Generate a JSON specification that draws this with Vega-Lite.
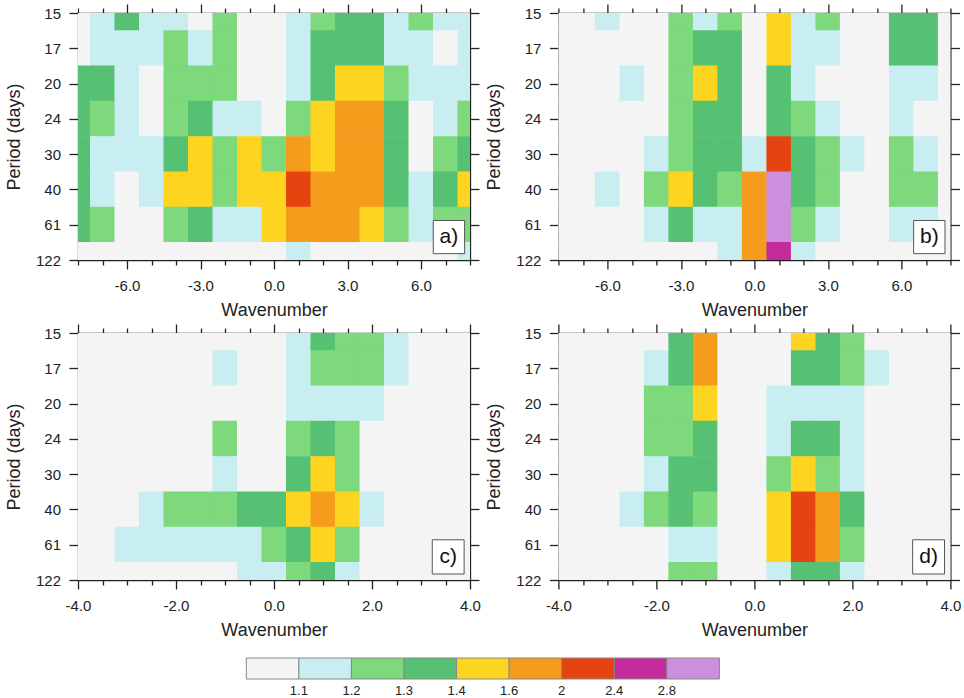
{
"$schema": "https://vega.github.io/schema/vega-lite/v6.json",
"padding": {"left": 5, "top": 3, "right": 0, "bottom": 0},
"spacing": 18,
"config": {
  "view": {"stroke": null},
  "font": "Liberation Sans",
  "axis": {"labelFont": "Liberation Sans", "labelFontSize": 15, "labelColor": "#222", "titleFont": "Liberation Sans", "titleFontSize": 18, "titleFontWeight": "normal", "titleColor": "#222", "domainColor": "#222", "domainWidth": 1.3, "tickColor": "#222", "tickWidth": 1.3, "grid": false, "labelFlush": false, "labelOverlap": false}
},
"datasets": {
"a": [
{"x":-8,"f":8,"v":1.05},{"x":-7,"f":8,"v":1.12},{"x":-6,"f":8,"v":1.32},{"x":-5,"f":8,"v":1.15},{"x":-4,"f":8,"v":1.12},{"x":-3,"f":8,"v":1.05},{"x":-2,"f":8,"v":1.22},{"x":-1,"f":8,"v":1.0},{"x":0,"f":8,"v":1.0},{"x":1,"f":8,"v":1.1},{"x":2,"f":8,"v":1.22},{"x":3,"f":8,"v":1.35},{"x":4,"f":8,"v":1.32},{"x":5,"f":8,"v":1.1},{"x":6,"f":8,"v":1.25},{"x":7,"f":8,"v":1.15},{"x":8,"f":8,"v":1.15},
{"x":-8,"f":7,"v":1.09},{"x":-7,"f":7,"v":1.18},{"x":-6,"f":7,"v":1.15},{"x":-5,"f":7,"v":1.1},{"x":-4,"f":7,"v":1.22},{"x":-3,"f":7,"v":1.12},{"x":-2,"f":7,"v":1.28},{"x":-1,"f":7,"v":1.0},{"x":0,"f":7,"v":1.02},{"x":1,"f":7,"v":1.15},{"x":2,"f":7,"v":1.3},{"x":3,"f":7,"v":1.38},{"x":4,"f":7,"v":1.35},{"x":5,"f":7,"v":1.15},{"x":6,"f":7,"v":1.15},{"x":7,"f":7,"v":1.07},{"x":8,"f":7,"v":1.15},
{"x":-8,"f":6,"v":1.3},{"x":-7,"f":6,"v":1.32},{"x":-6,"f":6,"v":1.1},{"x":-5,"f":6,"v":1.05},{"x":-4,"f":6,"v":1.25},{"x":-3,"f":6,"v":1.25},{"x":-2,"f":6,"v":1.2},{"x":-1,"f":6,"v":1.03},{"x":0,"f":6,"v":1.05},{"x":1,"f":6,"v":1.18},{"x":2,"f":6,"v":1.36},{"x":3,"f":6,"v":1.5},{"x":4,"f":6,"v":1.4},{"x":5,"f":6,"v":1.22},{"x":6,"f":6,"v":1.1},{"x":7,"f":6,"v":1.15},{"x":8,"f":6,"v":1.18},
{"x":-8,"f":5,"v":1.36},{"x":-7,"f":5,"v":1.26},{"x":-6,"f":5,"v":1.12},{"x":-5,"f":5,"v":1.05},{"x":-4,"f":5,"v":1.26},{"x":-3,"f":5,"v":1.35},{"x":-2,"f":5,"v":1.15},{"x":-1,"f":5,"v":1.1},{"x":0,"f":5,"v":1.08},{"x":1,"f":5,"v":1.28},{"x":2,"f":5,"v":1.42},{"x":3,"f":5,"v":1.6},{"x":4,"f":5,"v":1.62},{"x":5,"f":5,"v":1.3},{"x":6,"f":5,"v":1.07},{"x":7,"f":5,"v":1.18},{"x":8,"f":5,"v":1.2},
{"x":-8,"f":4,"v":1.36},{"x":-7,"f":4,"v":1.18},{"x":-6,"f":4,"v":1.1},{"x":-5,"f":4,"v":1.12},{"x":-4,"f":4,"v":1.32},{"x":-3,"f":4,"v":1.45},{"x":-2,"f":4,"v":1.22},{"x":-1,"f":4,"v":1.42},{"x":0,"f":4,"v":1.2},{"x":1,"f":4,"v":1.62},{"x":2,"f":4,"v":1.58},{"x":3,"f":4,"v":1.75},{"x":4,"f":4,"v":1.7},{"x":5,"f":4,"v":1.38},{"x":6,"f":4,"v":1.08},{"x":7,"f":4,"v":1.25},{"x":8,"f":4,"v":1.33},
{"x":-8,"f":3,"v":1.35},{"x":-7,"f":3,"v":1.16},{"x":-6,"f":3,"v":1.0},{"x":-5,"f":3,"v":1.1},{"x":-4,"f":3,"v":1.42},{"x":-3,"f":3,"v":1.55},{"x":-2,"f":3,"v":1.28},{"x":-1,"f":3,"v":1.45},{"x":0,"f":3,"v":1.58},{"x":1,"f":3,"v":2.38},{"x":2,"f":3,"v":1.9},{"x":3,"f":3,"v":1.8},{"x":4,"f":3,"v":1.65},{"x":5,"f":3,"v":1.35},{"x":6,"f":3,"v":1.15},{"x":7,"f":3,"v":1.3},{"x":8,"f":3,"v":1.45},
{"x":-8,"f":2,"v":1.3},{"x":-7,"f":2,"v":1.2},{"x":-6,"f":2,"v":1.0},{"x":-5,"f":2,"v":1.05},{"x":-4,"f":2,"v":1.25},{"x":-3,"f":2,"v":1.38},{"x":-2,"f":2,"v":1.1},{"x":-1,"f":2,"v":1.15},{"x":0,"f":2,"v":1.5},{"x":1,"f":2,"v":1.95},{"x":2,"f":2,"v":1.7},{"x":3,"f":2,"v":1.62},{"x":4,"f":2,"v":1.45},{"x":5,"f":2,"v":1.2},{"x":6,"f":2,"v":1.12},{"x":7,"f":2,"v":1.2},{"x":8,"f":2,"v":1.22},
{"x":-8,"f":1,"v":1.0},{"x":-7,"f":1,"v":1.02},{"x":-6,"f":1,"v":1.0},{"x":-5,"f":1,"v":1.0},{"x":-4,"f":1,"v":1.05},{"x":-3,"f":1,"v":1.08},{"x":-2,"f":1,"v":1.0},{"x":-1,"f":1,"v":1.0},{"x":0,"f":1,"v":1.05},{"x":1,"f":1,"v":1.12},{"x":2,"f":1,"v":1.08},{"x":3,"f":1,"v":1.05},{"x":4,"f":1,"v":1.05},{"x":5,"f":1,"v":1.05},{"x":6,"f":1,"v":1.05},{"x":7,"f":1,"v":1.08},{"x":8,"f":1,"v":1.1}
],
"b": [
{"x":-8,"f":8,"v":1.0},{"x":-7,"f":8,"v":1.0},{"x":-6,"f":8,"v":1.15},{"x":-5,"f":8,"v":1.0},{"x":-4,"f":8,"v":1.0},{"x":-3,"f":8,"v":1.22},{"x":-2,"f":8,"v":1.15},{"x":-1,"f":8,"v":1.2},{"x":0,"f":8,"v":1.05},{"x":1,"f":8,"v":1.45},{"x":2,"f":8,"v":1.12},{"x":3,"f":8,"v":1.22},{"x":4,"f":8,"v":1.0},{"x":5,"f":8,"v":1.0},{"x":6,"f":8,"v":1.38},{"x":7,"f":8,"v":1.32},{"x":8,"f":8,"v":1.0},
{"x":-8,"f":7,"v":1.0},{"x":-7,"f":7,"v":1.0},{"x":-6,"f":7,"v":1.05},{"x":-5,"f":7,"v":1.0},{"x":-4,"f":7,"v":1.0},{"x":-3,"f":7,"v":1.25},{"x":-2,"f":7,"v":1.35},{"x":-1,"f":7,"v":1.3},{"x":0,"f":7,"v":1.08},{"x":1,"f":7,"v":1.58},{"x":2,"f":7,"v":1.15},{"x":3,"f":7,"v":1.1},{"x":4,"f":7,"v":1.0},{"x":5,"f":7,"v":1.0},{"x":6,"f":7,"v":1.32},{"x":7,"f":7,"v":1.3},{"x":8,"f":7,"v":1.0},
{"x":-8,"f":6,"v":1.0},{"x":-7,"f":6,"v":1.0},{"x":-6,"f":6,"v":1.0},{"x":-5,"f":6,"v":1.11},{"x":-4,"f":6,"v":1.0},{"x":-3,"f":6,"v":1.25},{"x":-2,"f":6,"v":1.45},{"x":-1,"f":6,"v":1.3},{"x":0,"f":6,"v":1.07},{"x":1,"f":6,"v":1.32},{"x":2,"f":6,"v":1.15},{"x":3,"f":6,"v":1.05},{"x":4,"f":6,"v":1.0},{"x":5,"f":6,"v":1.0},{"x":6,"f":6,"v":1.15},{"x":7,"f":6,"v":1.12},{"x":8,"f":6,"v":1.0},
{"x":-8,"f":5,"v":1.0},{"x":-7,"f":5,"v":1.0},{"x":-6,"f":5,"v":1.0},{"x":-5,"f":5,"v":1.0},{"x":-4,"f":5,"v":1.05},{"x":-3,"f":5,"v":1.22},{"x":-2,"f":5,"v":1.35},{"x":-1,"f":5,"v":1.3},{"x":0,"f":5,"v":1.08},{"x":1,"f":5,"v":1.38},{"x":2,"f":5,"v":1.25},{"x":3,"f":5,"v":1.15},{"x":4,"f":5,"v":1.08},{"x":5,"f":5,"v":1.0},{"x":6,"f":5,"v":1.12},{"x":7,"f":5,"v":1.08},{"x":8,"f":5,"v":1.0},
{"x":-8,"f":4,"v":1.0},{"x":-7,"f":4,"v":1.0},{"x":-6,"f":4,"v":1.0},{"x":-5,"f":4,"v":1.0},{"x":-4,"f":4,"v":1.1},{"x":-3,"f":4,"v":1.25},{"x":-2,"f":4,"v":1.3},{"x":-1,"f":4,"v":1.3},{"x":0,"f":4,"v":1.1},{"x":1,"f":4,"v":2.2},{"x":2,"f":4,"v":1.35},{"x":3,"f":4,"v":1.22},{"x":4,"f":4,"v":1.1},{"x":5,"f":4,"v":1.0},{"x":6,"f":4,"v":1.22},{"x":7,"f":4,"v":1.18},{"x":8,"f":4,"v":1.0},
{"x":-8,"f":3,"v":1.0},{"x":-7,"f":3,"v":1.0},{"x":-6,"f":3,"v":1.12},{"x":-5,"f":3,"v":1.0},{"x":-4,"f":3,"v":1.25},{"x":-3,"f":3,"v":1.48},{"x":-2,"f":3,"v":1.35},{"x":-1,"f":3,"v":1.25},{"x":0,"f":3,"v":1.8},{"x":1,"f":3,"v":3.0},{"x":2,"f":3,"v":1.33},{"x":3,"f":3,"v":1.2},{"x":4,"f":3,"v":1.05},{"x":5,"f":3,"v":1.0},{"x":6,"f":3,"v":1.25},{"x":7,"f":3,"v":1.2},{"x":8,"f":3,"v":1.05},
{"x":-8,"f":2,"v":1.0},{"x":-7,"f":2,"v":1.0},{"x":-6,"f":2,"v":1.0},{"x":-5,"f":2,"v":1.0},{"x":-4,"f":2,"v":1.12},{"x":-3,"f":2,"v":1.38},{"x":-2,"f":2,"v":1.18},{"x":-1,"f":2,"v":1.15},{"x":0,"f":2,"v":1.95},{"x":1,"f":2,"v":3.1},{"x":2,"f":2,"v":1.2},{"x":3,"f":2,"v":1.12},{"x":4,"f":2,"v":1.0},{"x":5,"f":2,"v":1.0},{"x":6,"f":2,"v":1.15},{"x":7,"f":2,"v":1.15},{"x":8,"f":2,"v":1.0},
{"x":-8,"f":1,"v":1.0},{"x":-7,"f":1,"v":1.0},{"x":-6,"f":1,"v":1.0},{"x":-5,"f":1,"v":1.0},{"x":-4,"f":1,"v":1.0},{"x":-3,"f":1,"v":1.08},{"x":-2,"f":1,"v":1.08},{"x":-1,"f":1,"v":1.15},{"x":0,"f":1,"v":1.6},{"x":1,"f":1,"v":2.7},{"x":2,"f":1,"v":1.15},{"x":3,"f":1,"v":1.05},{"x":4,"f":1,"v":1.0},{"x":5,"f":1,"v":1.0},{"x":6,"f":1,"v":1.05},{"x":7,"f":1,"v":1.05},{"x":8,"f":1,"v":1.0}
],
"c": [
{"x":-4,"f":8,"v":1.0},{"x":-3.5,"f":8,"v":1.0},{"x":-3,"f":8,"v":1.0},{"x":-2.5,"f":8,"v":1.0},{"x":-2,"f":8,"v":1.0},{"x":-1.5,"f":8,"v":1.0},{"x":-1,"f":8,"v":1.0},{"x":-0.5,"f":8,"v":1.0},{"x":0,"f":8,"v":1.05},{"x":0.5,"f":8,"v":1.12},{"x":1,"f":8,"v":1.32},{"x":1.5,"f":8,"v":1.25},{"x":2,"f":8,"v":1.2},{"x":2.5,"f":8,"v":1.1},{"x":3,"f":8,"v":1.0},{"x":3.5,"f":8,"v":1.0},{"x":4,"f":8,"v":1.0},
{"x":-4,"f":7,"v":1.0},{"x":-3.5,"f":7,"v":1.0},{"x":-3,"f":7,"v":1.0},{"x":-2.5,"f":7,"v":1.0},{"x":-2,"f":7,"v":1.0},{"x":-1.5,"f":7,"v":1.0},{"x":-1,"f":7,"v":1.15},{"x":-0.5,"f":7,"v":1.0},{"x":0,"f":7,"v":1.05},{"x":0.5,"f":7,"v":1.15},{"x":1,"f":7,"v":1.25},{"x":1.5,"f":7,"v":1.25},{"x":2,"f":7,"v":1.2},{"x":2.5,"f":7,"v":1.1},{"x":3,"f":7,"v":1.0},{"x":3.5,"f":7,"v":1.0},{"x":4,"f":7,"v":1.0},
{"x":-4,"f":6,"v":1.0},{"x":-3.5,"f":6,"v":1.0},{"x":-3,"f":6,"v":1.0},{"x":-2.5,"f":6,"v":1.0},{"x":-2,"f":6,"v":1.0},{"x":-1.5,"f":6,"v":1.0},{"x":-1,"f":6,"v":1.0},{"x":-0.5,"f":6,"v":1.0},{"x":0,"f":6,"v":1.05},{"x":0.5,"f":6,"v":1.15},{"x":1,"f":6,"v":1.18},{"x":1.5,"f":6,"v":1.15},{"x":2,"f":6,"v":1.12},{"x":2.5,"f":6,"v":1.0},{"x":3,"f":6,"v":1.0},{"x":3.5,"f":6,"v":1.0},{"x":4,"f":6,"v":1.0},
{"x":-4,"f":5,"v":1.0},{"x":-3.5,"f":5,"v":1.0},{"x":-3,"f":5,"v":1.0},{"x":-2.5,"f":5,"v":1.0},{"x":-2,"f":5,"v":1.0},{"x":-1.5,"f":5,"v":1.0},{"x":-1,"f":5,"v":1.22},{"x":-0.5,"f":5,"v":1.0},{"x":0,"f":5,"v":1.08},{"x":0.5,"f":5,"v":1.2},{"x":1,"f":5,"v":1.38},{"x":1.5,"f":5,"v":1.2},{"x":2,"f":5,"v":1.05},{"x":2.5,"f":5,"v":1.0},{"x":3,"f":5,"v":1.0},{"x":3.5,"f":5,"v":1.0},{"x":4,"f":5,"v":1.0},
{"x":-4,"f":4,"v":1.0},{"x":-3.5,"f":4,"v":1.0},{"x":-3,"f":4,"v":1.0},{"x":-2.5,"f":4,"v":1.0},{"x":-2,"f":4,"v":1.0},{"x":-1.5,"f":4,"v":1.05},{"x":-1,"f":4,"v":1.1},{"x":-0.5,"f":4,"v":1.05},{"x":0,"f":4,"v":1.08},{"x":0.5,"f":4,"v":1.32},{"x":1,"f":4,"v":1.42},{"x":1.5,"f":4,"v":1.25},{"x":2,"f":4,"v":1.08},{"x":2.5,"f":4,"v":1.0},{"x":3,"f":4,"v":1.0},{"x":3.5,"f":4,"v":1.0},{"x":4,"f":4,"v":1.0},
{"x":-4,"f":3,"v":1.0},{"x":-3.5,"f":3,"v":1.0},{"x":-3,"f":3,"v":1.0},{"x":-2.5,"f":3,"v":1.1},{"x":-2,"f":3,"v":1.2},{"x":-1.5,"f":3,"v":1.22},{"x":-1,"f":3,"v":1.25},{"x":-0.5,"f":3,"v":1.3},{"x":0,"f":3,"v":1.33},{"x":0.5,"f":3,"v":1.5},{"x":1,"f":3,"v":1.95},{"x":1.5,"f":3,"v":1.4},{"x":2,"f":3,"v":1.15},{"x":2.5,"f":3,"v":1.0},{"x":3,"f":3,"v":1.0},{"x":3.5,"f":3,"v":1.0},{"x":4,"f":3,"v":1.0},
{"x":-4,"f":2,"v":1.0},{"x":-3.5,"f":2,"v":1.0},{"x":-3,"f":2,"v":1.12},{"x":-2.5,"f":2,"v":1.15},{"x":-2,"f":2,"v":1.12},{"x":-1.5,"f":2,"v":1.15},{"x":-1,"f":2,"v":1.15},{"x":-0.5,"f":2,"v":1.15},{"x":0,"f":2,"v":1.25},{"x":0.5,"f":2,"v":1.35},{"x":1,"f":2,"v":1.58},{"x":1.5,"f":2,"v":1.25},{"x":2,"f":2,"v":1.08},{"x":2.5,"f":2,"v":1.0},{"x":3,"f":2,"v":1.0},{"x":3.5,"f":2,"v":1.0},{"x":4,"f":2,"v":1.0},
{"x":-4,"f":1,"v":1.0},{"x":-3.5,"f":1,"v":1.0},{"x":-3,"f":1,"v":1.0},{"x":-2.5,"f":1,"v":1.0},{"x":-2,"f":1,"v":1.0},{"x":-1.5,"f":1,"v":1.0},{"x":-1,"f":1,"v":1.05},{"x":-0.5,"f":1,"v":1.1},{"x":0,"f":1,"v":1.15},{"x":0.5,"f":1,"v":1.2},{"x":1,"f":1,"v":1.32},{"x":1.5,"f":1,"v":1.15},{"x":2,"f":1,"v":1.0},{"x":2.5,"f":1,"v":1.0},{"x":3,"f":1,"v":1.0},{"x":3.5,"f":1,"v":1.0},{"x":4,"f":1,"v":1.0}
],
"d": [
{"x":-4,"f":8,"v":1.0},{"x":-3.5,"f":8,"v":1.0},{"x":-3,"f":8,"v":1.0},{"x":-2.5,"f":8,"v":1.0},{"x":-2,"f":8,"v":1.05},{"x":-1.5,"f":8,"v":1.35},{"x":-1,"f":8,"v":1.7},{"x":-0.5,"f":8,"v":1.08},{"x":0,"f":8,"v":1.0},{"x":0.5,"f":8,"v":1.08},{"x":1,"f":8,"v":1.45},{"x":1.5,"f":8,"v":1.35},{"x":2,"f":8,"v":1.2},{"x":2.5,"f":8,"v":1.05},{"x":3,"f":8,"v":1.0},{"x":3.5,"f":8,"v":1.0},{"x":4,"f":8,"v":1.0},
{"x":-4,"f":7,"v":1.0},{"x":-3.5,"f":7,"v":1.0},{"x":-3,"f":7,"v":1.0},{"x":-2.5,"f":7,"v":1.0},{"x":-2,"f":7,"v":1.1},{"x":-1.5,"f":7,"v":1.38},{"x":-1,"f":7,"v":1.8},{"x":-0.5,"f":7,"v":1.05},{"x":0,"f":7,"v":1.0},{"x":0.5,"f":7,"v":1.08},{"x":1,"f":7,"v":1.35},{"x":1.5,"f":7,"v":1.32},{"x":2,"f":7,"v":1.28},{"x":2.5,"f":7,"v":1.1},{"x":3,"f":7,"v":1.0},{"x":3.5,"f":7,"v":1.0},{"x":4,"f":7,"v":1.0},
{"x":-4,"f":6,"v":1.0},{"x":-3.5,"f":6,"v":1.0},{"x":-3,"f":6,"v":1.0},{"x":-2.5,"f":6,"v":1.0},{"x":-2,"f":6,"v":1.2},{"x":-1.5,"f":6,"v":1.28},{"x":-1,"f":6,"v":1.45},{"x":-0.5,"f":6,"v":1.05},{"x":0,"f":6,"v":1.0},{"x":0.5,"f":6,"v":1.1},{"x":1,"f":6,"v":1.18},{"x":1.5,"f":6,"v":1.15},{"x":2,"f":6,"v":1.15},{"x":2.5,"f":6,"v":1.05},{"x":3,"f":6,"v":1.0},{"x":3.5,"f":6,"v":1.0},{"x":4,"f":6,"v":1.0},
{"x":-4,"f":5,"v":1.0},{"x":-3.5,"f":5,"v":1.0},{"x":-3,"f":5,"v":1.0},{"x":-2.5,"f":5,"v":1.0},{"x":-2,"f":5,"v":1.22},{"x":-1.5,"f":5,"v":1.28},{"x":-1,"f":5,"v":1.35},{"x":-0.5,"f":5,"v":1.08},{"x":0,"f":5,"v":1.0},{"x":0.5,"f":5,"v":1.18},{"x":1,"f":5,"v":1.35},{"x":1.5,"f":5,"v":1.3},{"x":2,"f":5,"v":1.15},{"x":2.5,"f":5,"v":1.05},{"x":3,"f":5,"v":1.0},{"x":3.5,"f":5,"v":1.0},{"x":4,"f":5,"v":1.0},
{"x":-4,"f":4,"v":1.0},{"x":-3.5,"f":4,"v":1.0},{"x":-3,"f":4,"v":1.0},{"x":-2.5,"f":4,"v":1.0},{"x":-2,"f":4,"v":1.15},{"x":-1.5,"f":4,"v":1.32},{"x":-1,"f":4,"v":1.3},{"x":-0.5,"f":4,"v":1.08},{"x":0,"f":4,"v":1.0},{"x":0.5,"f":4,"v":1.25},{"x":1,"f":4,"v":1.5},{"x":1.5,"f":4,"v":1.22},{"x":2,"f":4,"v":1.12},{"x":2.5,"f":4,"v":1.05},{"x":3,"f":4,"v":1.0},{"x":3.5,"f":4,"v":1.0},{"x":4,"f":4,"v":1.0},
{"x":-4,"f":3,"v":1.0},{"x":-3.5,"f":3,"v":1.0},{"x":-3,"f":3,"v":1.0},{"x":-2.5,"f":3,"v":1.1},{"x":-2,"f":3,"v":1.29},{"x":-1.5,"f":3,"v":1.32},{"x":-1,"f":3,"v":1.25},{"x":-0.5,"f":3,"v":1.08},{"x":0,"f":3,"v":1.0},{"x":0.5,"f":3,"v":1.5},{"x":1,"f":3,"v":2.1},{"x":1.5,"f":3,"v":1.65},{"x":2,"f":3,"v":1.3},{"x":2.5,"f":3,"v":1.05},{"x":3,"f":3,"v":1.0},{"x":3.5,"f":3,"v":1.0},{"x":4,"f":3,"v":1.0},
{"x":-4,"f":2,"v":1.0},{"x":-3.5,"f":2,"v":1.0},{"x":-3,"f":2,"v":1.0},{"x":-2.5,"f":2,"v":1.0},{"x":-2,"f":2,"v":1.05},{"x":-1.5,"f":2,"v":1.12},{"x":-1,"f":2,"v":1.15},{"x":-0.5,"f":2,"v":1.05},{"x":0,"f":2,"v":1.0},{"x":0.5,"f":2,"v":1.45},{"x":1,"f":2,"v":2.02},{"x":1.5,"f":2,"v":1.62},{"x":2,"f":2,"v":1.25},{"x":2.5,"f":2,"v":1.05},{"x":3,"f":2,"v":1.0},{"x":3.5,"f":2,"v":1.0},{"x":4,"f":2,"v":1.0},
{"x":-4,"f":1,"v":1.0},{"x":-3.5,"f":1,"v":1.0},{"x":-3,"f":1,"v":1.0},{"x":-2.5,"f":1,"v":1.0},{"x":-2,"f":1,"v":1.0},{"x":-1.5,"f":1,"v":1.2},{"x":-1,"f":1,"v":1.25},{"x":-0.5,"f":1,"v":1.08},{"x":0,"f":1,"v":1.0},{"x":0.5,"f":1,"v":1.12},{"x":1,"f":1,"v":1.35},{"x":1.5,"f":1,"v":1.3},{"x":2,"f":1,"v":1.15},{"x":2.5,"f":1,"v":1.0},{"x":3,"f":1,"v":1.0},{"x":3.5,"f":1,"v":1.0},{"x":4,"f":1,"v":1.0}
]
},
"vconcat": [
{"vconcat": [
{"hconcat": [
{"width": 392, "height": 247,
 "layer": [
  {"data": {"name": "a"},
   "mark": {"type": "rect", "width": 25, "height": 36, "clip": true},
   "encoding": {
    "x": {"field": "x", "type": "quantitative", "scale": {"domain": [-8, 8], "nice": false, "zero": false},
          "axis": {"orient": "bottom", "values": [-8,-7,-6,-5,-4,-3,-2,-1,0,1,2,3,4,5,6,7,8], "labelExpr": "datum.value % 3 == 0 ? (datum.value < 0 ? '-' : '') + format(abs(datum.value), '.1f') : ''", "tickSize": {"condition": {"test": "datum.value % 3 == 0", "value": 9}, "value": 5}, "labelPadding": 9, "title": "Wavenumber", "titlePadding": 8}},
    "y": {"field": "f", "type": "quantitative", "scale": {"domain": [1, 8], "nice": false, "zero": false},
          "axis": {"orient": "left", "values": [1,2,3,4,5,6,7,8], "labelExpr": "['','122','61','40','30','24','20','17','15'][datum.value]", "tickSize": 9, "labelPadding": 8.5, "title": "Period (days)", "titlePadding": 12}},
    "color": {"field": "v", "type": "quantitative", "scale": {"type": "threshold", "domain": [1.1,1.2,1.3,1.4,1.6,2,2.4,2.8], "range": ["#f4f4f4","#c8eef2","#7dd97b","#56c172","#fdd521","#f59c1d","#e5430f","#c52a9a","#cd8fdd"]}, "legend": null}
   }},
  {"data": {"values": [{"lab": "a)"}]},
   "mark": {"type": "rect", "fill": "white", "stroke": "#555", "strokeWidth": 1},
   "encoding": {
    "x": {"datum": 6.5, "type": "quantitative", "axis": {"orient": "top", "values": [-8,-7,-6,-5,-4,-3,-2,-1,0,1,2,3,4,5,6,7,8], "labels": false, "tickSize": {"condition": {"test": "datum.value % 3 == 0", "value": 9}, "value": 5}, "title": null}},
    "x2": {"datum": 7.78},
    "y": {"datum": 1.18, "type": "quantitative", "axis": {"orient": "right", "values": [1,2,3,4,5,6,7,8], "labels": false, "tickSize": 9, "title": null}},
    "y2": {"datum": 2.12}
   }},
  {"data": {"values": [{"lab": "a)"}]},
   "mark": {"type": "text", "fontSize": 21, "font": "Liberation Sans", "color": "#111"},
   "encoding": {
    "x": {"datum": 7.14, "type": "quantitative", "axis": null},
    "y": {"datum": 1.65, "type": "quantitative", "axis": null},
    "text": {"field": "lab"}
   }}
 ],
 "resolve": {"axis": {"x": "independent", "y": "independent"}}
},
{"width": 392, "height": 247,
 "layer": [
  {"data": {"name": "b"},
   "mark": {"type": "rect", "width": 25, "height": 36, "clip": true},
   "encoding": {
    "x": {"field": "x", "type": "quantitative", "scale": {"domain": [-8, 8], "nice": false, "zero": false},
          "axis": {"orient": "bottom", "values": [-8,-7,-6,-5,-4,-3,-2,-1,0,1,2,3,4,5,6,7,8], "labelExpr": "datum.value % 3 == 0 ? (datum.value < 0 ? '-' : '') + format(abs(datum.value), '.1f') : ''", "tickSize": {"condition": {"test": "datum.value % 3 == 0", "value": 9}, "value": 5}, "labelPadding": 9, "title": "Wavenumber", "titlePadding": 8}},
    "y": {"field": "f", "type": "quantitative", "scale": {"domain": [1, 8], "nice": false, "zero": false},
          "axis": {"orient": "left", "values": [1,2,3,4,5,6,7,8], "labelExpr": "['','122','61','40','30','24','20','17','15'][datum.value]", "tickSize": 9, "labelPadding": 8.5, "title": "Period (days)", "titlePadding": 12}},
    "color": {"field": "v", "type": "quantitative", "scale": {"type": "threshold", "domain": [1.1,1.2,1.3,1.4,1.6,2,2.4,2.8], "range": ["#f4f4f4","#c8eef2","#7dd97b","#56c172","#fdd521","#f59c1d","#e5430f","#c52a9a","#cd8fdd"]}, "legend": null}
   }},
  {"data": {"values": [{"lab": "b)"}]},
   "mark": {"type": "rect", "fill": "white", "stroke": "#555", "strokeWidth": 1},
   "encoding": {
    "x": {"datum": 6.5, "type": "quantitative", "axis": {"orient": "top", "values": [-8,-7,-6,-5,-4,-3,-2,-1,0,1,2,3,4,5,6,7,8], "labels": false, "tickSize": {"condition": {"test": "datum.value % 3 == 0", "value": 9}, "value": 5}, "title": null}},
    "x2": {"datum": 7.78},
    "y": {"datum": 1.18, "type": "quantitative", "axis": {"orient": "right", "values": [1,2,3,4,5,6,7,8], "labels": false, "tickSize": 9, "title": null}},
    "y2": {"datum": 2.12}
   }},
  {"data": {"values": [{"lab": "b)"}]},
   "mark": {"type": "text", "fontSize": 21, "font": "Liberation Sans", "color": "#111"},
   "encoding": {
    "x": {"datum": 7.14, "type": "quantitative", "axis": null},
    "y": {"datum": 1.65, "type": "quantitative", "axis": null},
    "text": {"field": "lab"}
   }}
 ],
 "resolve": {"axis": {"x": "independent", "y": "independent"}}
}
], "spacing": 88.4, "bounds": "flush"},
{"hconcat": [
{"width": 392, "height": 247,
 "layer": [
  {"data": {"name": "c"},
   "mark": {"type": "rect", "width": 25, "height": 36, "clip": true},
   "encoding": {
    "x": {"field": "x", "type": "quantitative", "scale": {"domain": [-4, 4], "nice": false, "zero": false},
          "axis": {"orient": "bottom", "values": [-4,-3.5,-3,-2.5,-2,-1.5,-1,-0.5,0,0.5,1,1.5,2,2.5,3,3.5,4], "labelExpr": "datum.value % 2 == 0 ? (datum.value < 0 ? '-' : '') + format(abs(datum.value), '.1f') : ''", "tickSize": {"condition": {"test": "datum.value % 2 == 0", "value": 9}, "value": 5}, "labelPadding": 9, "title": "Wavenumber", "titlePadding": 8}},
    "y": {"field": "f", "type": "quantitative", "scale": {"domain": [1, 8], "nice": false, "zero": false},
          "axis": {"orient": "left", "values": [1,2,3,4,5,6,7,8], "labelExpr": "['','122','61','40','30','24','20','17','15'][datum.value]", "tickSize": 9, "labelPadding": 8.5, "title": "Period (days)", "titlePadding": 12}},
    "color": {"field": "v", "type": "quantitative", "scale": {"type": "threshold", "domain": [1.1,1.2,1.3,1.4,1.6,2,2.4,2.8], "range": ["#f4f4f4","#c8eef2","#7dd97b","#56c172","#fdd521","#f59c1d","#e5430f","#c52a9a","#cd8fdd"]}, "legend": null}
   }},
  {"data": {"values": [{"lab": "c)"}]},
   "mark": {"type": "rect", "fill": "white", "stroke": "#555", "strokeWidth": 1},
   "encoding": {
    "x": {"datum": 3.23, "type": "quantitative", "axis": {"orient": "top", "values": [-4,-3.5,-3,-2.5,-2,-1.5,-1,-0.5,0,0.5,1,1.5,2,2.5,3,3.5,4], "labels": false, "tickSize": {"condition": {"test": "datum.value % 2 == 0", "value": 9}, "value": 5}, "title": null}},
    "x2": {"datum": 3.88},
    "y": {"datum": 1.17, "type": "quantitative", "axis": {"orient": "right", "values": [1,2,3,4,5,6,7,8], "labels": false, "tickSize": 9, "title": null}},
    "y2": {"datum": 2.14}
   }},
  {"data": {"values": [{"lab": "c)"}]},
   "mark": {"type": "text", "fontSize": 21, "font": "Liberation Sans", "color": "#111"},
   "encoding": {
    "x": {"datum": 3.555, "type": "quantitative", "axis": null},
    "y": {"datum": 1.655, "type": "quantitative", "axis": null},
    "text": {"field": "lab"}
   }}
 ],
 "resolve": {"axis": {"x": "independent", "y": "independent"}}
},
{"width": 392, "height": 247,
 "layer": [
  {"data": {"name": "d"},
   "mark": {"type": "rect", "width": 25, "height": 36, "clip": true},
   "encoding": {
    "x": {"field": "x", "type": "quantitative", "scale": {"domain": [-4, 4], "nice": false, "zero": false},
          "axis": {"orient": "bottom", "values": [-4,-3.5,-3,-2.5,-2,-1.5,-1,-0.5,0,0.5,1,1.5,2,2.5,3,3.5,4], "labelExpr": "datum.value % 2 == 0 ? (datum.value < 0 ? '-' : '') + format(abs(datum.value), '.1f') : ''", "tickSize": {"condition": {"test": "datum.value % 2 == 0", "value": 9}, "value": 5}, "labelPadding": 9, "title": "Wavenumber", "titlePadding": 8}},
    "y": {"field": "f", "type": "quantitative", "scale": {"domain": [1, 8], "nice": false, "zero": false},
          "axis": {"orient": "left", "values": [1,2,3,4,5,6,7,8], "labelExpr": "['','122','61','40','30','24','20','17','15'][datum.value]", "tickSize": 9, "labelPadding": 8.5, "title": "Period (days)", "titlePadding": 12}},
    "color": {"field": "v", "type": "quantitative", "scale": {"type": "threshold", "domain": [1.1,1.2,1.3,1.4,1.6,2,2.4,2.8], "range": ["#f4f4f4","#c8eef2","#7dd97b","#56c172","#fdd521","#f59c1d","#e5430f","#c52a9a","#cd8fdd"]}, "legend": null}
   }},
  {"data": {"values": [{"lab": "d)"}]},
   "mark": {"type": "rect", "fill": "white", "stroke": "#555", "strokeWidth": 1},
   "encoding": {
    "x": {"datum": 3.23, "type": "quantitative", "axis": {"orient": "top", "values": [-4,-3.5,-3,-2.5,-2,-1.5,-1,-0.5,0,0.5,1,1.5,2,2.5,3,3.5,4], "labels": false, "tickSize": {"condition": {"test": "datum.value % 2 == 0", "value": 9}, "value": 5}, "title": null}},
    "x2": {"datum": 3.88},
    "y": {"datum": 1.17, "type": "quantitative", "axis": {"orient": "right", "values": [1,2,3,4,5,6,7,8], "labels": false, "tickSize": 9, "title": null}},
    "y2": {"datum": 2.14}
   }},
  {"data": {"values": [{"lab": "d)"}]},
   "mark": {"type": "text", "fontSize": 21, "font": "Liberation Sans", "color": "#111"},
   "encoding": {
    "x": {"datum": 3.555, "type": "quantitative", "axis": null},
    "y": {"datum": 1.655, "type": "quantitative", "axis": null},
    "text": {"field": "lab"}
   }}
 ],
 "resolve": {"axis": {"x": "independent", "y": "independent"}}
}
], "spacing": 88.4, "bounds": "flush"}
], "spacing": 4},
{"width": 641.4, "height": 21,
 "data": {"values": [{"k": "1.1"},{"k": "1.2"},{"k": "1.3"},{"k": "1.4"},{"k": "1.6"},{"k": "2"},{"k": "2.4"},{"k": "2.8"},{"k": " "}]},
 "mark": {"type": "rect", "stroke": "#888", "strokeWidth": 1},
 "encoding": {
  "x": {"field": "k", "type": "ordinal", "sort": ["1.1","1.2","1.3","1.4","1.6","2","2.4","2.8"," "], "scale": {"range": [168.3, 641.4], "paddingInner": 0, "paddingOuter": 0},
        "axis": {"orient": "bottom", "title": null, "ticks": false, "domain": false, "labelOffset": 26.3, "labelAngle": 0, "labelPadding": 5, "labelFontSize": 13}},
  "color": {"field": "k", "type": "ordinal", "scale": {"domain": ["1.1","1.2","1.3","1.4","1.6","2","2.4","2.8"," "], "range": ["#f4f4f4","#c8eef2","#7dd97b","#56c172","#fdd521","#f59c1d","#e5430f","#c52a9a","#cd8fdd"]}, "legend": null}
 }}
]
}
